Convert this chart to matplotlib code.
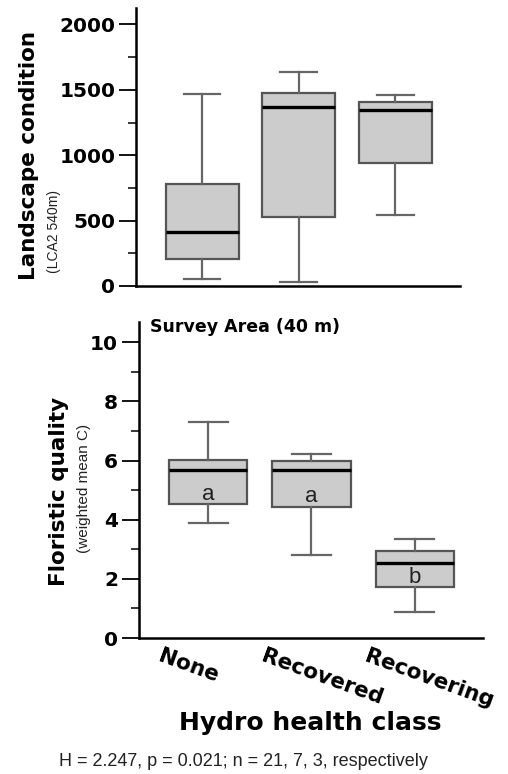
#!/usr/bin/env python3

# Box plots of landscape condition and floristic quality by hydro health class

import matplotlib
matplotlib.use('Agg')
import matplotlib.pyplot as plt
from matplotlib.transforms import ScaledTranslation

plt.rcParams['font.family'] = ['Liberation Sans', 'DejaVu Sans']
BOLD = 'DejaVu Sans'   # wide bold face, closer to the reference proportions

classes = ['None', 'Recovered', 'Recovering']

# whisker low, box low (q1), median, box high (q3), whisker high
lca_stats = [
    [56, 206, 415, 781, 1468],
    [33, 529, 1372, 1476, 1634],
    [542, 944, 1349, 1405, 1458],
]
fq_stats = [
    [3.90, 4.52, 5.68, 6.01, 7.31],
    [2.81, 4.42, 5.68, 5.97, 6.22],
    [0.89, 1.71, 2.52, 2.94, 3.34],
]
letters = ['a', 'a', 'b']
letter_y = [4.86, 4.77, 2.06]

caption = 'H = 2.247, p = 0.021; n = 21, 7, 3, respectively'


def to_bxp(stats, labels):
    out = []
    for s, lab in zip(stats, labels):
        out.append({'whislo': s[0], 'q1': s[1], 'med': s[2], 'q3': s[3],
                    'whishi': s[4], 'fliers': [], 'label': lab})
    return out


def draw_box(ax, stats):
    ax.bxp(to_bxp(stats, classes), positions=[1, 2, 3], widths=0.756,
           patch_artist=True, showfliers=False, capwidths=0.38,
           boxprops=dict(facecolor='#cccccc', edgecolor='#555555', linewidth=1.6),
           medianprops=dict(color='black', linewidth=2.4),
           whiskerprops=dict(color='#666666', linewidth=1.6),
           capprops=dict(color='#666666', linewidth=1.6))
    for side in ['top', 'right']:
        ax.spines[side].set_visible(False)
    for side in ['left', 'bottom']:
        ax.spines[side].set_linewidth(1.8)
    ax.tick_params(axis='y', which='major', direction='out', length=12, width=1.3,
                   labelsize=14.5, pad=3)
    ax.tick_params(axis='y', which='minor', direction='out', length=6, width=1.1)


def bold_yticks(ax):
    for lab in ax.get_yticklabels():
        lab.set_fontweight('bold')
        lab.set_family(BOLD)


fig = plt.figure(figsize=(5.08, 7.74), dpi=100)

# top panel
ax1 = fig.add_axes([0.268, 0.6305, 0.638, 0.359])
draw_box(ax1, lca_stats)
ax1.set_xlim(0.316, 3.674)
ax1.set_ylim(0, 2125)
ax1.set_yticks([0, 500, 1000, 1500, 2000])
ax1.set_yticks([250, 750, 1250, 1750], minor=True)
bold_yticks(ax1)
ax1.tick_params(axis='x', length=0, labelbottom=False)

fig.text(29 / 508, 1 - 280 / 774, 'Landscape condition', rotation=90,
         ha='center', va='bottom', fontsize=15.5, fontweight='bold', family=BOLD)
fig.text(54 / 508, 1 - 273 / 774, '(LCA2 540m)', rotation=90,
         ha='center', va='bottom', fontsize=10, color='#222222')

# bottom panel
ax2 = fig.add_axes([0.2736, 0.1757, 0.677, 0.408])
draw_box(ax2, fq_stats)
ax2.set_xlim(0.33, 3.66)
ax2.set_ylim(0, 10.68)
ax2.set_yticks([0, 2, 4, 6, 8, 10])
ax2.set_yticks([1, 3, 5, 7, 9], minor=True)
bold_yticks(ax2)
ax2.tick_params(axis='x', length=0, pad=6)
ax2.set_xticks([1, 2, 3])
ax2.set_xticklabels(classes, rotation=-20, ha='left', va='top',
                    rotation_mode='anchor', fontsize=15.5, fontweight='bold',
                    family=BOLD)
for lab in ax2.get_xticklabels():
    lab.set_transform(lab.get_transform() + ScaledTranslation(-0.46, 0, fig.dpi_scale_trans))

for i, (t, y) in enumerate(zip(letters, letter_y)):
    ax2.text(i + 1, y, t, ha='center', va='center', fontsize=16, color='#222222')

ax2.text(0.032, 0.984, 'Survey Area (40 m)', transform=ax2.transAxes,
         ha='left', va='center', fontsize=12.5, fontweight='bold', family=BOLD)

fig.text(59 / 508, 1 - 491 / 774, 'Floristic quality', rotation=90,
         ha='center', va='center', fontsize=15.5, fontweight='bold', family=BOLD)
fig.text(84 / 508, 1 - 488 / 774, '(weighted mean C)', rotation=90,
         ha='center', va='center', fontsize=11, color='#222222')

fig.text(310 / 508, 1 - 723 / 774, 'Hydro health class', ha='center', va='center',
         fontsize=18, fontweight='bold', family=BOLD)
fig.text(243 / 508, 1 - 762 / 774, caption, ha='center', va='center',
         fontsize=13, color='#222222')

fig.savefig('out.png', dpi=100)
print('Done.')
